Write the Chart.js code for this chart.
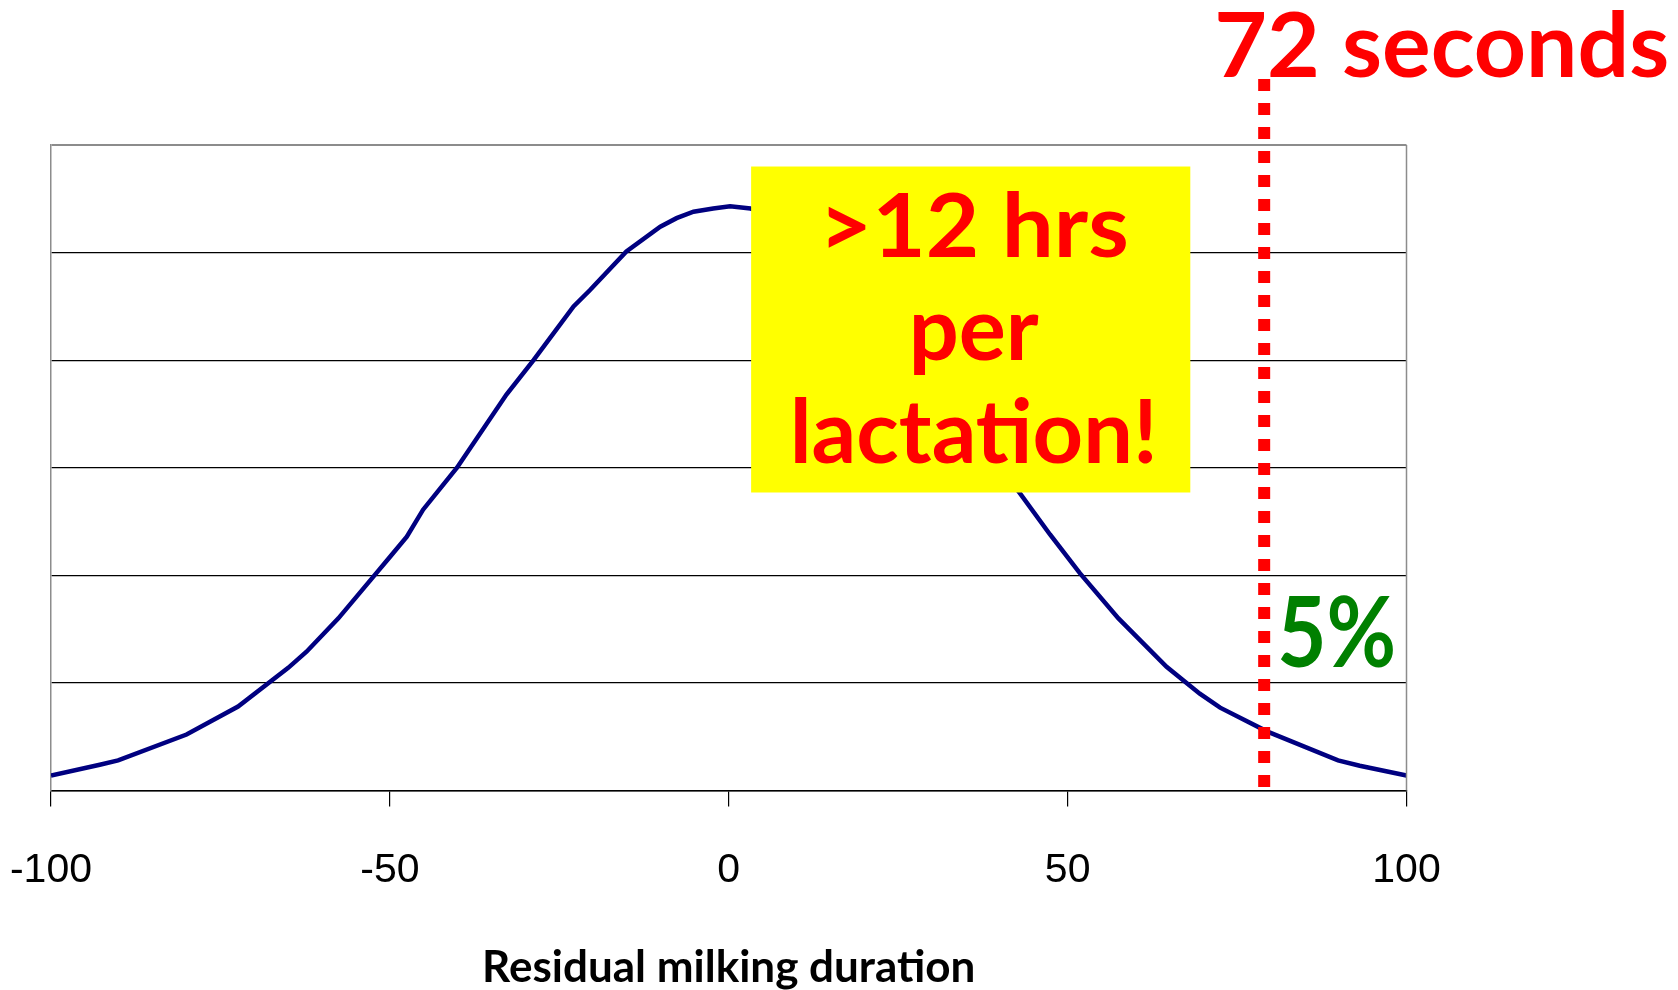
<!DOCTYPE html>
<html>
<head>
<meta charset="utf-8">
<script src="https://cdn.jsdelivr.net/npm/chart.js@4.4.1/dist/chart.umd.min.js"></script>
<style>
  html, body { margin: 0; padding: 0; background: #fff; }
</style>
</head>
<body>
<canvas id="milkChart" width="1678" height="990"></canvas>
<script>
// Residual milking duration (s) and relative frequency of cows
const durations = [-100, -92.8, -90.1, -80, -72.4, -65, -62.3, -57.6, -52.4, -50, -47.5, -45.1, -40.1,
  -32.8, -28.8, -22.9, -20.5, -15.1, -10.1, -7.7, -5.2, -2.3, 0.2, 3.2, 7.7, 10.1, 15.1, 20.5, 22.9,
  28.8, 32.8, 40.1, 43, 47.4, 51.8, 57.5, 64.6, 69.5, 72.5, 79.4, 89.9, 93.1, 100];
const frequency = [0.14, 0.24, 0.28, 0.52, 0.78, 1.14, 1.29, 1.60, 1.99, 2.17, 2.36, 2.61, 3.00,
  3.68, 4.00, 4.50, 4.65, 5.01, 5.24, 5.32, 5.38, 5.41, 5.43, 5.41, 5.33, 5.24, 5.00, 4.65, 4.50,
  4.00, 3.68, 3.00, 2.76, 2.38, 2.02, 1.60, 1.15, 0.90, 0.77, 0.55, 0.28, 0.23, 0.14];
const xTicks = [-100, -50, 0, 50, 100];

// slowest 5% cut-off, and the note box (duration from/to, frequency top/bottom)
const cutoff = 79;
const noteRange = [3.3, 68.1];
const noteLevels = [5.8, 2.77];
const noteLines = ['>12 hrs', 'per', 'lactation!'];

const handFont = (size) => `bold ${size}px "Comic Sans MS", Lato, "Noto Sans", sans-serif`;

// draw text squeezed/stretched to a given width
function fitText(ctx, text, x, baseline, width, align) {
  const w = ctx.measureText(text).width;
  ctx.save();
  ctx.translate(align === 'center' ? x - width / 2 : x, baseline);
  ctx.scale(width / w, 1);
  ctx.textAlign = 'left';
  ctx.fillText(text, 0, 0);
  ctx.restore();
}

const callouts = {
  id: 'callouts',
  afterDatasetsDraw(chart) {
    const { ctx, chartArea, scales: { x, y } } = chart;
    ctx.save();

    // right edge of the plot frame
    ctx.strokeStyle = '#8c8c8c';
    ctx.lineWidth = 1.5;
    ctx.beginPath();
    ctx.moveTo(chartArea.right, chartArea.top);
    ctx.lineTo(chartArea.right, chartArea.bottom);
    ctx.stroke();

    // yellow note
    const bx1 = x.getPixelForValue(noteRange[0]);
    const bx2 = x.getPixelForValue(noteRange[1]);
    const by1 = y.getPixelForValue(noteLevels[0]);
    const by2 = y.getPixelForValue(noteLevels[1]);
    ctx.fillStyle = '#ffff00';
    ctx.fillRect(bx1, by1, bx2 - bx1, by2 - by1);
    ctx.fillStyle = '#ff0000';
    ctx.font = handFont(88);
    ctx.textBaseline = 'alphabetic';
    const mid = (bx1 + bx2) / 2;
    const widths = [310, 130, 368];
    noteLines.forEach((line, i) => {
      fitText(ctx, line, mid + 3, by1 + 90 + i * 103, widths[i], 'center');
    });

    // dotted cut-off line
    const cx = x.getPixelForValue(cutoff);
    ctx.strokeStyle = '#ff0000';
    ctx.lineWidth = 12;
    ctx.setLineDash([12, 12]);
    ctx.beginPath();
    ctx.moveTo(cx, 79);
    ctx.lineTo(cx, chartArea.bottom - 2);
    ctx.stroke();
    ctx.setLineDash([]);

    ctx.fillStyle = '#ff0000';
    ctx.font = handFont(89);
    fitText(ctx, '72 seconds', cx - 50, 77, 455);

    ctx.fillStyle = '#008000';
    ctx.font = handFont(98);
    fitText(ctx, '5%', cx + 13, 667, 119);

    ctx.restore();
  }
};

new Chart(document.getElementById('milkChart'), {
  type: 'line',
  data: {
    datasets: [{
      data: durations.map((d, i) => ({ x: d, y: frequency[i] })),
      borderColor: '#000080',
      borderWidth: 4.5,
      pointRadius: 0,
      tension: 0,
      fill: false
    }]
  },
  options: {
    responsive: false,
    animation: false,
    layout: { padding: { left: 51, right: 271.5, top: 145, bottom: 0 } },
    plugins: { legend: { display: false }, tooltip: { enabled: false } },
    scales: {
      x: {
        type: 'linear',
        min: -100,
        max: 100,
        afterBuildTicks: (s) => { s.ticks = xTicks.map(v => ({ value: v })); },
        afterFit: (s) => {
          s.height = 199.5;
          s.paddingLeft = 0;
          s.paddingRight = 0;
        },
        grid: { drawOnChartArea: false, drawTicks: true, tickLength: 16, color: '#000', lineWidth: 1.2 },
        border: { color: '#000', width: 1.5 },
        ticks: {
          autoSkip: false,
          maxRotation: 0,
          padding: 40,
          color: '#000',
          font: { family: 'Tahoma, "Liberation Sans", sans-serif', size: 41 }
        },
        title: {
          display: true,
          text: 'Residual milking duration',
          color: '#000',
          padding: { top: 0, bottom: 2 },
          font: { family: '"Comic Sans MS", Lato, sans-serif', size: 44, weight: 'bold', lineHeight: 0.9 }
        }
      },
      y: {
        min: 0,
        max: 6,
        afterFit: (s) => { s.width = 0; },
        ticks: { display: false, stepSize: 1 },
        grid: {
          drawTicks: false,
          color: (c) => c.tick.value === 6 ? '#8c8c8c' : '#000',
          lineWidth: (c) => c.tick.value === 6 ? 2 : 1.3
        },
        border: { color: '#8c8c8c', width: 1.5 }
      }
    }
  },
  plugins: [callouts]
});
</script>
</body>
</html>
